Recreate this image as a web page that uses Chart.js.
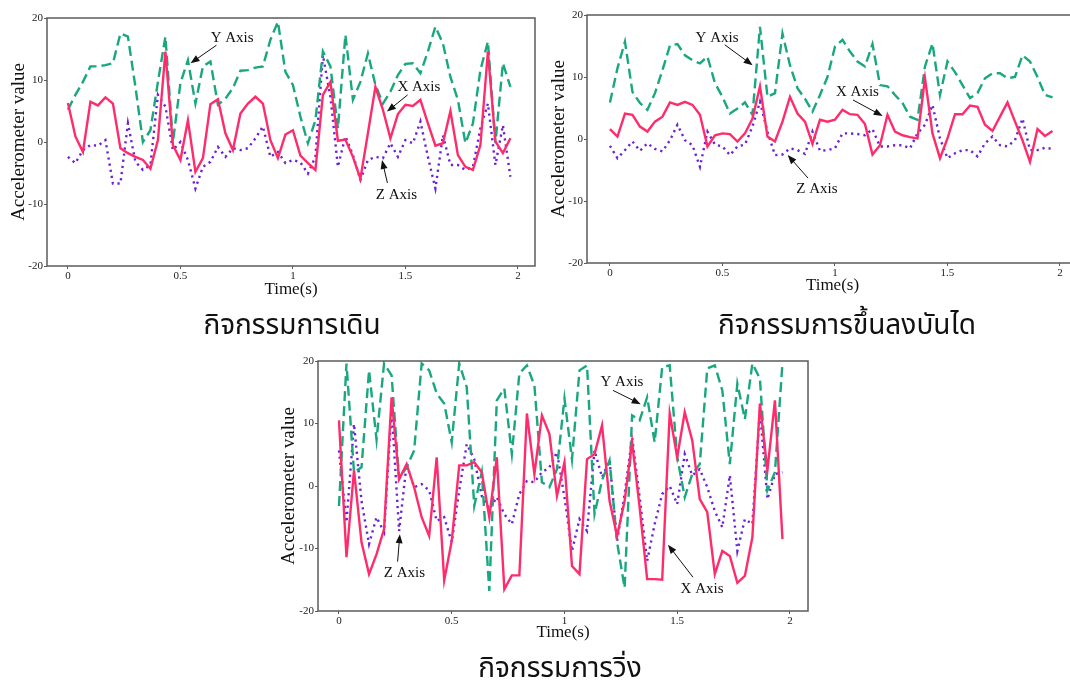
<!DOCTYPE html>
<html>
<head>
<meta charset="utf-8">
<script src="https://cdn.jsdelivr.net/npm/chart.js@4.4.1/dist/chart.umd.min.js"></script>
<style>
  html, body { margin: 0; padding: 0; background: #fff; width: 1070px; height: 686px; overflow: hidden; position: relative; }
  canvas { position: absolute; }
  .caption {
    position: absolute;
    transform: translateX(-50%);
    white-space: nowrap;
    font-family: "Noto Sans Thai", "Noto Sans", "DejaVu Sans", sans-serif;
    font-size: 28px;
    line-height: 28px;
    color: #111;
  }
</style>
</head>
<body>
<canvas id="walk-chart" width="545" height="305" style="left:0px;top:0px"></canvas>
<canvas id="stairs-chart" width="545" height="302" style="left:545px;top:0px"></canvas>
<canvas id="run-chart" width="545" height="305" style="left:270px;top:345px"></canvas>
<div class="caption" style="left:292px;top:312px">กิจกรรมการเดิน</div>
<div class="caption" style="left:847px;top:312px">กิจกรรมการขึ้นลงบันได</div>
<div class="caption" style="left:560px;top:655px">กิจกรรมการวิ่ง</div>
<script>
// Samples are 1/30 s apart (60 samples over 2 s)
const sampleRate = 30;
const xTicks = [0, 0.5, 1, 1.5, 2];
const seriesNames = ['X Axis', 'Y Axis', 'Z Axis'];

// Walking
const walkX = [6.3, 0.9, -1.6, 6.5, 5.9, 7.2, 6.2, -1.0, -1.8, -2.4,
    -2.9, -4.3, 0.3, 14.6, -0.5, -2.9, 3.5, -4.8, -2.6, 6.1,
    6.9, 1.4, -1.3, 4.6, 6.2, 7.3, 6.2, 0.3, -2.6, 1.2,
    1.9, -2.2, -3.4, -4.5, 7.6, 9.7, 0.2, 0.4, -2.4, -5.9,
    1.4, 8.9, 5.2, 0.6, 4.5, 6.0, 5.8, 6.8, 3.0, -0.6,
    -0.2, 5.0, -2.1, -4.0, -4.5, -0.5, 14.6, 0.1, -1.8, 0.6];
const walkY = [5.2, 7.6, 9.7, 12.2, 12.2, 12.4, 12.7, 17.5, 17.0, 8.9,
    0.0, 1.9, 9.7, 17.0, 0.0, 9.5, 13.2, 6.2, 12.2, 13.0,
    6.0, 7.0, 8.7, 11.5, 11.6, 12.0, 12.2, 16.5, 19.4, 11.3,
    9.2, 4.1, -0.2, 3.5, 14.6, 12.2, 2.2, 17.3, 6.8, 9.7,
    14.3, 9.2, 6.2, 8.1, 10.8, 12.6, 12.7, 11.1, 14.6, 18.6,
    15.9, 10.5, 6.8, -0.2, 3.0, 11.6, 16.2, -0.2, 12.7, 8.9];
const walkZ = [-2.4, -3.4, -1.3, -0.5, -0.6, 0.3, -6.7, -6.7, 3.0, -3.2,
    -4.5, -3.7, 7.6, 5.7, -1.3, 0.0, -2.9, -7.5, -4.0, -3.2,
    -0.8, -2.4, -1.0, -1.3, -1.0, 0.6, 2.5, -2.4, -1.6, -3.4,
    -2.9, -3.3, -5.1, -2.4, 14.0, 7.3, -4.0, 0.9, -2.1, -6.1,
    -2.9, -2.4, -2.6, -0.2, -2.4, 0.3, -0.2, 3.3, -2.4, -7.5,
    1.1, -3.7, -3.7, -4.5, -4.0, 2.2, 6.2, -3.7, 2.7, -5.6];

// Stairs
const stairsX = [1.6, 0.4, 4.1, 3.9, 2.0, 1.2, 2.8, 3.6, 5.9, 5.5,
    6.0, 5.5, 3.9, -1.2, 0.6, 0.9, 0.8, -0.4, 0.9, 3.3,
    8.5, 0.4, -0.4, 2.8, 6.8, 4.1, 2.8, -0.8, 3.1, 2.8,
    3.1, 4.7, 4.0, 3.9, 2.4, -2.5, -1.0, 3.9, 1.2, 0.6,
    0.3, 0.1, 9.8, 0.9, -3.1, 0.1, 4.0, 4.0, 5.4, 5.2,
    2.3, 1.3, 3.6, 5.9, 2.8, -0.2, -3.7, 1.6, 0.5, 1.3];
const stairsY = [5.9, 11.4, 15.7, 7.6, 5.8, 4.7, 7.4, 11.1, 15.1, 15.3,
    13.5, 12.7, 12.2, 13.3, 9.0, 6.8, 4.1, 4.9, 5.9, 3.9,
    18.1, 6.8, 7.4, 17.0, 11.9, 8.2, 6.5, 4.4, 7.1, 10.0,
    14.9, 16.0, 14.1, 12.5, 11.7, 15.3, 8.7, 8.5, 7.1, 5.8,
    3.6, 3.1, 11.7, 15.4, 7.1, 12.5, 10.8, 8.7, 6.6, 7.4,
    9.8, 10.6, 10.6, 9.8, 10.0, 13.5, 12.5, 10.0, 7.1, 6.7];
const stairsZ = [-1.1, -3.1, -1.8, -0.4, -1.9, -0.7, -1.6, -2.0, -0.2, 2.3,
    -0.2, -1.0, -4.5, 1.2, -0.9, -1.2, -2.6, -1.2, -0.9, 2.0,
    6.0, 1.2, -2.6, -2.5, -1.5, -1.8, -2.4, 1.2, -1.9, -1.8,
    -1.5, 0.9, 0.9, 0.8, 0.6, 1.6, -1.2, -1.2, -1.0, -1.0,
    -1.5, 0.9, 2.3, 5.5, 0.1, -3.1, -2.3, -1.8, -1.8, -2.8,
    -0.7, 0.4, -1.0, -1.2, -0.2, 3.3, -1.8, -1.8, -1.4, -1.6];

// Running
const runX = [10.5, -11.4, 2.5, -9.0, -14.1, -10.9, -6.9, 14.2, 1.1, 3.5,
    -0.2, -5.0, -8.0, 4.6, -15.1, -8.8, 3.3, 3.3, 3.8, 2.2,
    -5.0, 4.6, -16.5, -14.3, -14.3, 11.6, 1.9, 11.3, 8.3, -1.6,
    3.8, -12.8, -14.1, 4.3, 5.1, 9.7, -2.4, -8.0, -2.4, 7.0,
    -3.4, -14.9, -14.9, -15.0, 11.6, 4.6, 11.8, 7.3, -2.1, -4.2,
    -14.1, -10.4, -11.2, -15.5, -14.4, -8.2, 13.2, 2.5, 13.7, -8.5];
const runY = [-3.2, 19.6, 2.2, 3.0, 18.5, 7.4, 19.6, 17.7, 1.1, 3.0,
    5.7, 19.6, 18.5, 14.8, 13.2, 7.0, 19.6, 15.8, -3.2, 2.2,
    -16.8, 13.7, 15.6, 5.1, 18.0, 19.3, 16.1, 0.6, -0.2, 2.7,
    14.0, 4.3, 18.5, 19.3, -4.5, 0.9, 4.1, -9.0, -16.3, 11.3,
    10.5, 14.2, 7.0, 19.0, 19.3, 4.6, -1.8, 1.9, 3.5, 18.8,
    19.3, 15.3, 3.5, 16.4, 10.7, 19.6, 17.2, -0.7, 2.2, 19.6];
const runZ = [5.7, -5.8, 9.9, -2.4, -9.3, -5.0, -7.4, 12.4, -7.2, 3.5,
    -0.2, 0.3, -0.7, -5.6, -5.0, -9.0, -0.7, 6.7, 4.3, -1.6,
    -3.7, -1.8, -4.5, -6.1, -1.3, 0.8, 0.6, 2.2, 3.0, 5.4,
    -1.8, -10.4, -5.3, -7.2, 5.7, 1.4, 4.1, -8.8, -1.3, 7.8,
    -1.8, -12.0, -6.1, -1.3, 0.0, -2.9, 5.1, 1.7, 2.7, -0.2,
    -4.0, -6.6, 1.7, -10.4, -5.3, -6.1, 12.1, -2.1, 1.9, 2.2];

// Arrow labels: text position (tx, ty) and arrow from (sx, sy) to head (hx, hy), in data units
const walkNotes = [
    { text: 'Y Axis', tx: 0.73, ty: 16.8, sx: 0.66, sy: 15.6, hx: 0.545, hy: 12.7 },
    { text: 'X Axis', tx: 1.56, ty: 8.9, sx: 1.51, sy: 7.6, hx: 1.418, hy: 4.9 },
    { text: 'Z Axis', tx: 1.46, ty: -8.5, sx: 1.42, sy: -6.6, hx: 1.396, hy: -2.9 }
];
const stairsNotes = [
    { text: 'Y Axis', tx: 0.476, ty: 16.3, sx: 0.51, sy: 15.2, hx: 0.634, hy: 11.9 },
    { text: 'X Axis', tx: 1.10, ty: 7.6, sx: 1.08, sy: 6.3, hx: 1.212, hy: 3.7 },
    { text: 'Z Axis', tx: 0.92, ty: -8.1, sx: 0.88, sy: -6.3, hx: 0.79, hy: -2.6 }
];
const runNotes = [
    { text: 'Y Axis', tx: 1.255, ty: 16.7, sx: 1.215, sy: 15.3, hx: 1.338, hy: 13.1 },
    { text: 'X Axis', tx: 1.61, ty: -16.5, sx: 1.57, sy: -14.6, hx: 1.459, hy: -9.4 },
    { text: 'Z Axis', tx: 0.29, ty: -14.0, sx: 0.26, sy: -12.1, hx: 0.27, hy: -7.7 }
];

const serifFont = 'Liberation Serif, Times New Roman, serif';
const axisColor = '#5b5b5b';

// Draws the box round the plot and the arrow labels
const framePlugin = {
    id: 'frame',
    afterDatasetsDraw(chart, args, opts) {
        const { ctx, chartArea: a, scales: { x, y } } = chart;
        ctx.save();
        ctx.strokeStyle = axisColor;
        ctx.lineWidth = 1.5;
        ctx.strokeRect(a.left, a.top, a.right - a.left, a.bottom - a.top);

        ctx.fillStyle = '#111';
        ctx.strokeStyle = '#111';
        ctx.lineWidth = 1;
        ctx.font = '15px ' + serifFont;
        ctx.textAlign = 'center';
        ctx.textBaseline = 'middle';
        (opts.notes || []).forEach(n => {
            ctx.fillText(n.text, x.getPixelForValue(n.tx), y.getPixelForValue(n.ty));
            const sx = x.getPixelForValue(n.sx), sy = y.getPixelForValue(n.sy);
            const hx = x.getPixelForValue(n.hx), hy = y.getPixelForValue(n.hy);
            const ang = Math.atan2(hy - sy, hx - sx);
            ctx.beginPath();
            ctx.moveTo(sx, sy);
            ctx.lineTo(hx - 6 * Math.cos(ang), hy - 6 * Math.sin(ang));
            ctx.stroke();
            ctx.beginPath();
            ctx.moveTo(hx, hy);
            ctx.lineTo(hx - 9 * Math.cos(ang) + 3.5 * Math.sin(ang), hy - 9 * Math.sin(ang) - 3.5 * Math.cos(ang));
            ctx.lineTo(hx - 9 * Math.cos(ang) - 3.5 * Math.sin(ang), hy - 9 * Math.sin(ang) + 3.5 * Math.cos(ang));
            ctx.closePath();
            ctx.fill();
        });
        ctx.restore();
    }
};

function toPoints(values) {
    return values.map((v, i) => ({ x: i / sampleRate, y: v }));
}

function makeChart(canvasId, xs, ys, zs, notes, box) {
    return new Chart(document.getElementById(canvasId), {
        type: 'line',
        data: {
            datasets: [{
                label: seriesNames[0],
                data: toPoints(xs),
                borderColor: '#ff2c6c', // pink solid
                borderWidth: 2.4
            }, {
                label: seriesNames[1],
                data: toPoints(ys),
                borderColor: '#18a77e', // green dashed
                borderWidth: 2.4,
                borderDash: [10, 5]
            }, {
                label: seriesNames[2],
                data: toPoints(zs),
                borderColor: '#6a22d4', // purple dotted
                borderWidth: 2.4,
                borderDash: [2.2, 4]
            }]
        },
        options: {
            responsive: false,
            animation: false,
            devicePixelRatio: 1,
            elements: { point: { radius: 0 }, line: { tension: 0, fill: false } },
            layout: { padding: { top: box.top, right: box.right, left: 0, bottom: 0 } },
            scales: {
                x: {
                    type: 'linear',
                    min: box.xMin,
                    max: box.xMax,
                    afterBuildTicks: scale => { scale.ticks = xTicks.map(v => ({ value: v })); },
                    afterFit: scale => { scale.height = box.xHeight; },
                    ticks: {
                        autoSkip: false, maxRotation: 0, padding: 1,
                        callback: v => String(v),
                        color: '#222', font: { family: serifFont, size: 11 }
                    },
                    grid: { drawOnChartArea: false, tickLength: 3, color: axisColor },
                    border: { display: false },
                    title: {
                        display: true, text: 'Time(s)', color: '#111',
                        font: { family: serifFont, size: 17 },
                        padding: { top: 0, bottom: box.titlePad }
                    }
                },
                y: {
                    min: -20,
                    max: 20,
                    ticks: {
                        stepSize: 10, padding: 1,
                        color: '#222', font: { family: serifFont, size: 11 }
                    },
                    afterFit: scale => { scale.width = box.yWidth; },
                    grid: { drawOnChartArea: false, tickLength: 3, color: axisColor },
                    border: { display: false },
                    title: {
                        display: true, text: 'Accelerometer value', color: '#111',
                        font: { family: serifFont, size: 19 },
                        padding: { top: box.yTitlePad, bottom: 0 }
                    }
                }
            },
            plugins: {
                legend: { display: false },
                tooltip: { enabled: false },
                frame: { notes: notes }
            }
        },
        plugins: [framePlugin]
    });
}

makeChart('walk-chart', walkX, walkY, walkZ, walkNotes,
    { top: 18, right: 10, xMin: -0.093, xMax: 2.076, xHeight: 39, yWidth: 47, titlePad: 5, yTitlePad: 8 });
makeChart('stairs-chart', stairsX, stairsY, stairsZ, stairsNotes,
    { top: 15, right: 12, xMin: -0.102, xMax: 2.08, xHeight: 39, yWidth: 42, titlePad: 6, yTitlePad: 3 });
makeChart('run-chart', runX, runY, runZ, runNotes,
    { top: 16, right: 7, xMin: -0.093, xMax: 2.08, xHeight: 39, yWidth: 48, titlePad: 7, yTitlePad: 8 });
</script>
</body>
</html>
